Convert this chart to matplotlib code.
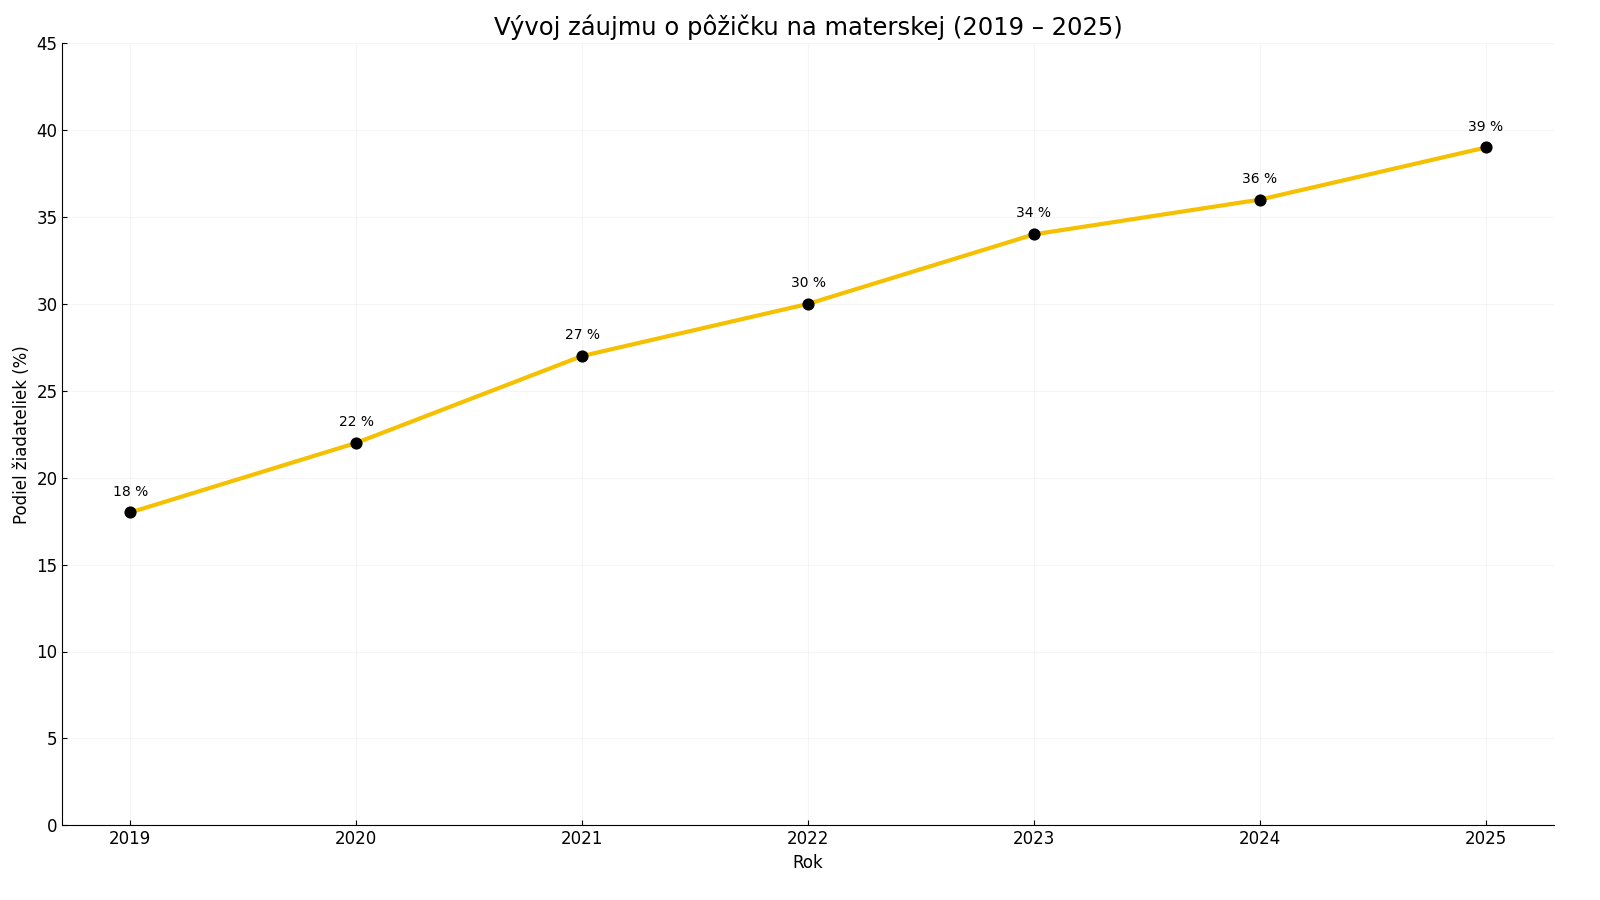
import matplotlib
matplotlib.use("Agg")
import matplotlib.pyplot as plt

roky = [2019, 2020, 2021, 2022, 2023, 2024, 2025]
podiel = [18, 22, 27, 30, 34, 36, 39]
popisky = [f"{v} %" for v in podiel]

fig = plt.figure(figsize=(16, 9), dpi=100)
ax = fig.add_axes([0.039, 0.083, 0.932, 0.869])

ax.plot(roky, podiel, color="#F5C000", linewidth=3, zorder=2)
ax.scatter(roky, podiel, color="black", s=60, zorder=3)

for x, y, t in zip(roky, podiel, popisky):
    ax.annotate(t, (x, y), xytext=(0, 10), textcoords="offset points",
                ha="center", va="bottom", fontsize=10)

ax.set_title("Vývoj záujmu o pôžičku na materskej (2019 – 2025)", fontsize=17.5)
ax.set_xlabel("Rok", fontsize=12)
ax.set_ylabel("Podiel žiadateliek (%)", fontsize=12)
ax.set_ylim(0, 45)
ax.set_xticks(roky)
ax.tick_params(direction="in", labelsize=12)
ax.grid(True, color="#e0e0e0", alpha=0.3, linewidth=0.8)
ax.spines["top"].set_visible(False)
ax.spines["right"].set_visible(False)

plt.savefig("out.png", dpi=100)
